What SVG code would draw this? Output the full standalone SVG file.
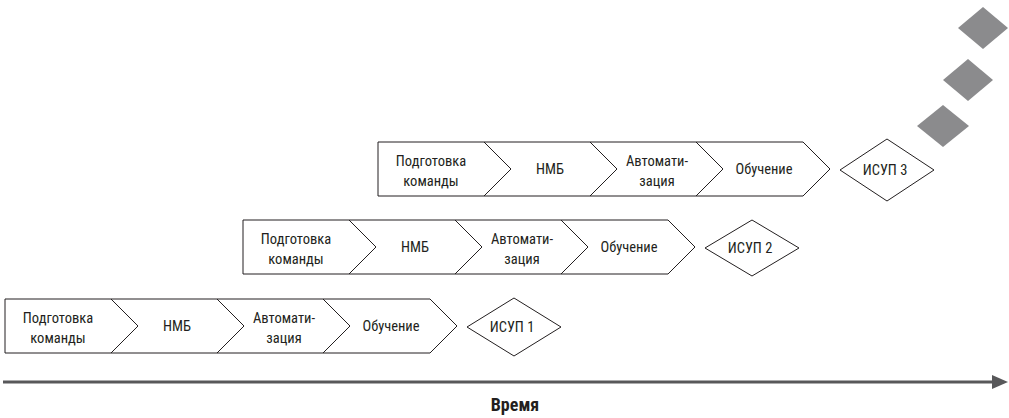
<svg xmlns="http://www.w3.org/2000/svg" width="1009" height="418" viewBox="0 0 1009 418">
<style>
.s{fill:#fff;stroke:#231f20;stroke-width:1}
.g{fill:#8b8b8d}
text{font-family:"Liberation Sans Narrow","Roboto Condensed","DejaVu Sans Condensed",Roboto,"Liberation Sans",sans-serif;font-size:14.5px;fill:#231f20;text-anchor:middle}
.b{font-weight:bold;font-size:18px}
</style>
<g id="row1">
<g id="r1-prep"><polygon class="s" points="5,299 111,299 138,326 111,353 5,353"/><text x="58" y="323">Подготовка</text><text x="58" y="343">команды</text></g>
<g id="r1-nmb"><polygon class="s" points="111,299 217,299 244,326 217,353 111,353 138,326"/><text x="177" y="331">НМБ</text></g>
<g id="r1-auto"><polygon class="s" points="217,299 323,299 350,326 323,353 217,353 244,326"/><text x="284" y="323">Автомати-</text><text x="284" y="343">зация</text></g>
<g id="r1-learn"><polygon class="s" points="323,299 430,299 457,326 430,353 323,353 350,326"/><text x="391" y="331">Обучение</text></g>
<g id="r1-isup"><polygon class="s" points="467,327 514,298 561,327 514,356"/><text x="512" y="332">ИСУП 1</text></g>
</g>
<g id="row2" transform="translate(238,-79)">
<g id="r2-prep"><polygon class="s" points="5,299 111,299 138,326 111,353 5,353"/><text x="58" y="323">Подготовка</text><text x="58" y="343">команды</text></g>
<g id="r2-nmb"><polygon class="s" points="111,299 217,299 244,326 217,353 111,353 138,326"/><text x="177" y="331">НМБ</text></g>
<g id="r2-auto"><polygon class="s" points="217,299 323,299 350,326 323,353 217,353 244,326"/><text x="284" y="323">Автомати-</text><text x="284" y="343">зация</text></g>
<g id="r2-learn"><polygon class="s" points="323,299 430,299 457,326 430,353 323,353 350,326"/><text x="391" y="331">Обучение</text></g>
<g id="r2-isup"><polygon class="s" points="467,327 514,299 561,327 514,355"/><text x="512" y="332">ИСУП 2</text></g>
</g>
<g id="row3" transform="translate(373,-157)">
<g id="r3-prep"><polygon class="s" points="5,299 111,299 138,326 111,353 5,353"/><text x="58" y="323">Подготовка</text><text x="58" y="343">команды</text></g>
<g id="r3-nmb"><polygon class="s" points="111,299 217,299 244,326 217,353 111,353 138,326"/><text x="177" y="331">НМБ</text></g>
<g id="r3-auto"><polygon class="s" points="217,299 323,299 350,326 323,353 217,353 244,326"/><text x="284" y="323">Автомати-</text><text x="284" y="343">зация</text></g>
<g id="r3-learn"><polygon class="s" points="323,299 430,299 457,326 430,353 323,353 350,326"/><text x="391" y="331">Обучение</text></g>
<g id="r3-isup"><polygon class="s" points="467,327 514,296 561,327 514,358"/><text x="512" y="332">ИСУП 3</text></g>
</g>
<g id="future">
<polygon class="g" points="958,28 983,7 1008,28 983,49"/>
<polygon class="g" points="943,80 968,59 993,80 968,101"/>
<polygon class="g" points="917,126 943,105 969,126 943,147"/>
</g>
<g id="connectors">
<line x1="3" y1="382" x2="994" y2="382" stroke="#58585a" stroke-width="3"/>
<polygon points="992,375 1008,382 992,389" fill="#58585a"/>
</g>
<text class="b" x="515" y="411">Время</text>
</svg>
